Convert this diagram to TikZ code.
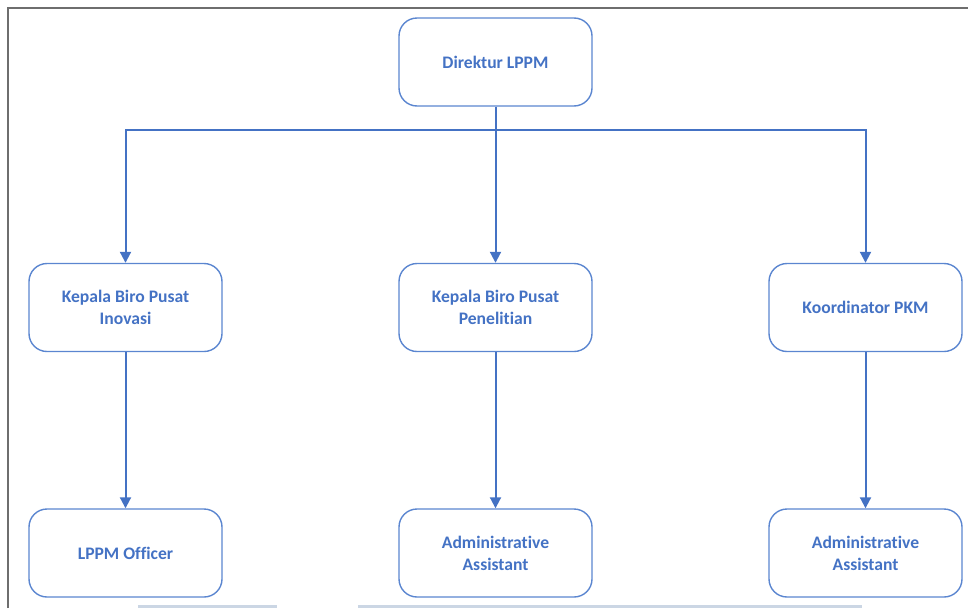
\documentclass[tikz,border=0pt]{standalone}
\usepackage{fontspec}
\setmainfont{Carlito}[Ligatures=NoCommon]
\usetikzlibrary{arrows.meta}
\definecolor{bl}{HTML}{4472C4}
\definecolor{bx}{HTML}{5B86D0}
\definecolor{fr}{HTML}{6E6E6E}
\definecolor{bar}{HTML}{CBD6E4}
\begin{document}
\begin{tikzpicture}[x=1pt,y=-1pt,
  box/.style={draw=bx,line width=1.4pt,rounded corners=18pt,minimum width=193pt,minimum height=88pt,
    align=center,text=bl,font=\fontsize{17.6}{22}\selectfont\bfseries,inner sep=0pt},
  conn/.style={draw=bl,line width=2pt},
  arr/.style={conn,-{Triangle[length=11pt,width=11pt]}}]
\useasboundingbox (0,0) rectangle (968,608);
\draw[fr,line width=1.5pt] (8,608) -- (8,8) -- (968,8);
\fill[bar] (138,604.5) rectangle (277,608);
\fill[bar] (358,604.5) rectangle (862,608);
\node[box] (dir) at (495.5,62) {Direktur LPPM};
\node[box] (kin) at (125.5,307.5) {Kepala Biro Pusat\\Inovasi};
\node[box] (kpe) at (495.5,307.5) {Kepala Biro Pusat\\Penelitian};
\node[box] (kpk) at (865.5,307.5) {Koordinator PKM};
\node[box] (off) at (125.5,553) {LPPM Officer};
\node[box] (aa1) at (495.5,553) {Administrative\\Assistant};
\node[box] (aa2) at (865.5,553) {Administrative\\Assistant};
\coordinate (bus) at (495.5,130);
\draw[conn] (dir.south) -- (bus);
\draw[arr] (bus) -| (kin.north);
\draw[arr] (bus) -- (kpe.north);
\draw[arr] (bus) -| (kpk.north);
\draw[arr] (kin.south) -- (off.north);
\draw[arr] (kpe.south) -- (aa1.north);
\draw[arr] (kpk.south) -- (aa2.north);
\end{tikzpicture}
\end{document}
